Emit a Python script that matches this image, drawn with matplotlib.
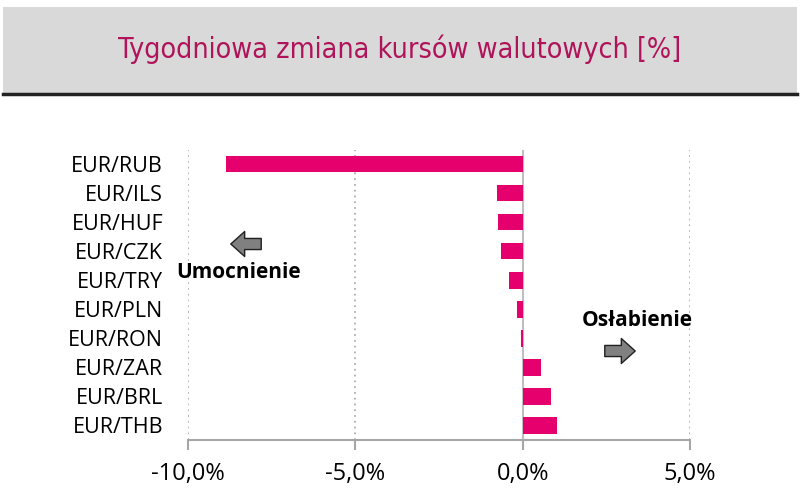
import numpy as np
import matplotlib
matplotlib.use("Agg")
import matplotlib.pyplot as plt
from matplotlib.patches import Rectangle

# tygodniowa zmiana kursow [%]
pairs = ["EUR/RUB", "EUR/ILS", "EUR/HUF", "EUR/CZK", "EUR/TRY",
         "EUR/PLN", "EUR/RON", "EUR/ZAR", "EUR/BRL", "EUR/THB"]
changes = [-8.86, -0.76, -0.73, -0.64, -0.41, -0.16, -0.05, 0.56, 0.86, 1.04]
xticks = [-10, -5, 0, 5]
xtick_labels = ["-10,0%", "-5,0%", "0,0%", "5,0%"]

bar_color = "#E6006E"
title_color = "#B0135A"

fig = plt.figure(figsize=(8, 4.97), dpi=100)
plt.rcParams["font.family"] = ["Open Sans", "DejaVu Sans"]

# szary pasek z tytulem
fig.patches.append(Rectangle((3 / 800, 1 - 93 / 497), 794 / 800, 86 / 497,
                             transform=fig.transFigure, facecolor="#D9D9D9",
                             edgecolor="none", zorder=0))
fig.add_artist(plt.Line2D([3 / 800, 797 / 800], [1 - 94 / 497, 1 - 94 / 497],
                          transform=fig.transFigure, color="#222222", lw=2.5))
fig.text(0.5, 1 - 49 / 497, "Tygodniowa zmiana kursów walutowych [%]",
         ha="center", va="center", fontsize=20.5, color=title_color,
         family="DejaVu Sans", stretch="condensed")

ax = fig.add_axes([188 / 800, 1 - 440 / 497, 502 / 800, 290.5 / 497])
y = np.arange(len(pairs))
ax.barh(y, changes, height=0.57, color=bar_color, zorder=3)
ax.set_ylim(len(pairs) - 0.5, -0.5)
ax.set_xlim(-10, 5)
ax.set_yticks(y)
ax.set_yticklabels(pairs, fontsize=15.5)
ax.tick_params(axis="y", length=0, pad=18)
ax.set_xticks(xticks)
ax.set_xticklabels(xtick_labels, fontsize=17)
ax.tick_params(axis="x", direction="out", length=7, color="#A6A6A6", width=1.5, pad=9)

for x in [-10, -5, 5]:
    ax.axvline(x, color="#B0B0B0", lw=1.3, ls=(0, (1, 2.2)), zorder=1)
ax.axvline(0, color="#BFBFBF", lw=1.5, zorder=2)

for s in ["top", "right", "left"]:
    ax.spines[s].set_visible(False)
ax.spines["bottom"].set_color("#A6A6A6")
ax.spines["bottom"].set_linewidth(1.5)

# strzalki i opisy
arrow = dict(arrowstyle="simple,head_length=1.0,head_width=1.8,tail_width=0.8",
             fc="#808080", ec="#202020", lw=1, mutation_scale=10)
ax.annotate("", xy=(228, 497 - 244), xytext=(264, 497 - 244),
            xycoords="figure pixels", textcoords="figure pixels", arrowprops=arrow)
ax.annotate("", xy=(638, 497 - 351), xytext=(602, 497 - 351),
            xycoords="figure pixels", textcoords="figure pixels", arrowprops=arrow)
fig.text(239 / 800, 1 - 272 / 497, "Umocnienie", ha="center", va="center",
         fontsize=15, fontweight="bold")
fig.text(637 / 800, 1 - 320 / 497, "Osłabienie", ha="center", va="center",
         fontsize=15, fontweight="bold")

fig.savefig("out.png", dpi=100)
